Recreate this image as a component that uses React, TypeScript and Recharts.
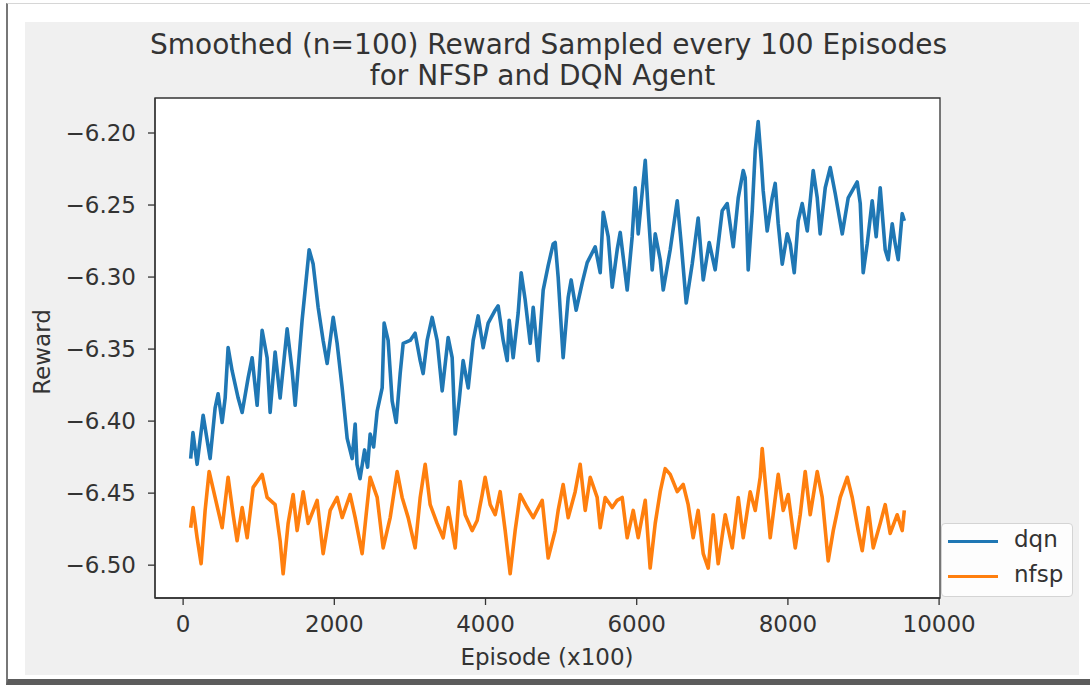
import { LineChart, Line, XAxis, YAxis, CartesianGrid, ReferenceArea } from "recharts";

// episode / smoothed reward pairs
const dqnEpisodes = [
  100, 130, 185, 265, 357, 423, 463, 516, 556, 595, 648, 728, 781, 860, 913, 979,
  1045, 1111, 1151, 1217, 1283, 1376, 1442, 1482, 1574, 1614, 1667, 1720, 1786, 1852,
  1905, 1985, 2037, 2104, 2170, 2236, 2276, 2300, 2340, 2400, 2440, 2474, 2520, 2567,
  2633, 2659, 2712, 2765, 2818, 2871, 2911, 3003, 3069, 3136, 3175, 3228, 3294, 3360,
  3427, 3506, 3559, 3599, 3651, 3704, 3771, 3837, 3903, 3969, 4035, 4128, 4167, 4234,
  4287, 4313, 4366, 4432, 4472, 4525, 4591, 4631, 4697, 4763, 4829, 4895, 4922, 4961,
  5027, 5094, 5133, 5199, 5279, 5345, 5451, 5517, 5557, 5623, 5676, 5742, 5782, 5874,
  5940, 5980, 6020, 6113, 6152, 6205, 6245, 6311, 6351, 6443, 6536, 6589, 6655, 6734,
  6813, 6880, 6959, 7038, 7131, 7197, 7277, 7343, 7409, 7435, 7475, 7528, 7568, 7607,
  7647, 7673, 7726, 7792, 7832, 7872, 7925, 7991, 8031, 8084, 8136, 8189, 8256, 8335,
  8388, 8427, 8494, 8560, 8626, 8719, 8798, 8917, 8957, 8996, 9049, 9115, 9168, 9221,
  9287, 9327, 9380, 9420, 9459, 9512, 9540,
];
const dqnReward = [
  -6.426, -6.408, -6.430, -6.396, -6.426, -6.391, -6.381, -6.401, -6.384, -6.349, -6.365, -6.384, -6.394, -6.370, -6.356, -6.389,
  -6.337, -6.356, -6.394, -6.352, -6.384, -6.336, -6.365, -6.389, -6.330, -6.309, -6.281, -6.291, -6.321, -6.344,
  -6.360, -6.328, -6.346, -6.377, -6.412, -6.426, -6.402, -6.430, -6.440, -6.420, -6.432, -6.409, -6.418, -6.393,
  -6.377, -6.332, -6.344, -6.386, -6.401, -6.367, -6.346, -6.344, -6.339, -6.358, -6.367, -6.344, -6.328, -6.344,
  -6.379, -6.342, -6.356, -6.409, -6.386, -6.358, -6.377, -6.344, -6.327, -6.349, -6.332, -6.323, -6.320, -6.344,
  -6.358, -6.330, -6.356, -6.325, -6.297, -6.316, -6.346, -6.321, -6.358, -6.309, -6.292, -6.277, -6.276, -6.300,
  -6.356, -6.314, -6.302, -6.323, -6.304, -6.290, -6.279, -6.297, -6.255, -6.272, -6.307, -6.281, -6.269, -6.309,
  -6.272, -6.238, -6.270, -6.219, -6.254, -6.295, -6.270, -6.288, -6.309, -6.281, -6.247, -6.277, -6.318, -6.291,
  -6.259, -6.302, -6.276, -6.295, -6.254, -6.249, -6.279, -6.245, -6.226, -6.231, -6.295, -6.254, -6.212, -6.192,
  -6.219, -6.240, -6.268, -6.245, -6.235, -6.263, -6.291, -6.270, -6.277, -6.297, -6.261, -6.249, -6.268, -6.226,
  -6.245, -6.270, -6.238, -6.224, -6.242, -6.270, -6.245, -6.234, -6.249, -6.297, -6.277, -6.247, -6.272, -6.238,
  -6.281, -6.288, -6.263, -6.277, -6.288, -6.256, -6.261,
];

const nfspEpisodes = [
  100, 132, 185, 238, 291, 344, 423, 516, 595, 662, 714, 781, 847, 926, 1045, 1111,
  1217, 1283, 1323, 1389, 1455, 1508, 1588, 1654, 1773, 1852, 1945, 2037, 2104, 2209,
  2276, 2368, 2421, 2474, 2567, 2646, 2739, 2831, 2897, 2977, 3069, 3136, 3202, 3268,
  3360, 3440, 3506, 3599, 3665, 3731, 3823, 3890, 3956, 3995, 4062, 4128, 4194, 4260,
  4326, 4392, 4459, 4551, 4631, 4750, 4829, 4922, 4961, 5027, 5094, 5186, 5252, 5319,
  5385, 5477, 5517, 5583, 5676, 5742, 5808, 5874, 5954, 6020, 6113, 6178, 6245, 6311,
  6377, 6443, 6536, 6615, 6681, 6747, 6813, 6880, 6946, 7012, 7078, 7171, 7264, 7343,
  7409, 7501, 7568, 7634, 7660, 7700, 7766, 7872, 7938, 8004, 8097, 8163, 8229, 8295,
  8388, 8454, 8533, 8600, 8692, 8785, 8851, 8930, 8983, 9062, 9129, 9221, 9287, 9353,
  9446, 9512, 9540,
];
const nfspReward = [
  -6.474, -6.460, -6.481, -6.499, -6.462, -6.435, -6.453, -6.474, -6.439, -6.465, -6.483, -6.460, -6.481, -6.446, -6.437, -6.453,
  -6.458, -6.483, -6.506, -6.471, -6.451, -6.476, -6.449, -6.471, -6.455, -6.492, -6.462, -6.453, -6.467, -6.451,
  -6.467, -6.492, -6.465, -6.439, -6.453, -6.488, -6.467, -6.435, -6.453, -6.467, -6.488, -6.453, -6.430, -6.458,
  -6.471, -6.481, -6.460, -6.488, -6.442, -6.465, -6.476, -6.469, -6.451, -6.439, -6.458, -6.465, -6.449, -6.476,
  -6.506, -6.476, -6.451, -6.460, -6.467, -6.455, -6.495, -6.476, -6.462, -6.444, -6.467, -6.449, -6.430, -6.462,
  -6.439, -6.453, -6.474, -6.453, -6.460, -6.455, -6.453, -6.481, -6.462, -6.481, -6.455, -6.502, -6.471, -6.449,
  -6.433, -6.437, -6.449, -6.444, -6.458, -6.481, -6.462, -6.492, -6.502, -6.465, -6.499, -6.465, -6.488, -6.453,
  -6.481, -6.449, -6.462, -6.439, -6.419, -6.442, -6.481, -6.437, -6.462, -6.451, -6.488, -6.465, -6.435, -6.465,
  -6.435, -6.453, -6.497, -6.476, -6.453, -6.439, -6.453, -6.476, -6.490, -6.460, -6.488, -6.471, -6.458, -6.478,
  -6.465, -6.476, -6.462,
];

const xTicks = [0, 2000, 4000, 6000, 8000, 10000];
const yTicks = [-6.5, -6.45, -6.4, -6.35, -6.3, -6.25, -6.2];

// matplotlib-style 5% padding around the data range
const xDomain: [number, number] = [-372, 10012];
const yDomain: [number, number] = [-6.5228, -6.1757];

const dqnData = dqnEpisodes.map((episode, i) => ({ episode, reward: dqnReward[i] }));
const nfspData = nfspEpisodes.map((episode, i) => ({ episode, reward: nfspReward[i] }));

const FONT = "DejaVu Sans, sans-serif";
const INK = "#333333";
const BLUE = "#1f77b4";
const ORANGE = "#ff7f0e";

const tickStyle = { fill: INK, fontSize: 23, fontFamily: FONT };

function formatReward(v: number): string {
  return v.toFixed(2).replace("-", "\u2212");
}

export default function App() {
  return (
    <div style={{ position: "absolute", left: 0, top: 0, width: 1090, height: 694, background: "#ffffff", fontFamily: FONT }}>
      {/* window frame */}
      <div
        style={{
          position: "absolute",
          left: 6,
          top: 3,
          width: 1084,
          height: 682,
          background: "#ffffff",
          borderLeft: "2px solid #777",
          borderTop: "1px solid #d6d6d6",
          borderBottom: "6px solid #5c5c5c",
          boxSizing: "border-box",
        }}
      />
      {/* figure face */}
      <div style={{ position: "absolute", left: 25, top: 22, width: 1054, height: 653, background: "#f0f0f0" }} />

      <div
        style={{
          position: "absolute",
          left: 150,
          width: 785,
          top: 29,
          textAlign: "center",
          fontSize: 28,
          lineHeight: "31px",
          color: INK,
          whiteSpace: "nowrap",
        }}
      >
        <div>Smoothed (n=100) Reward Sampled every 100 Episodes</div>
        <div>for NFSP and DQN Agent</div>
      </div>

      <div style={{ position: "absolute", left: 0, top: 0 }}>
        <LineChart width={1090} height={694} margin={{ top: 98, right: 150, bottom: 46, left: 75 }}>
          <CartesianGrid horizontal={false} vertical={false} fill="#ffffff" />
          <XAxis
            dataKey="episode"
            type="number"
            domain={xDomain}
            allowDataOverflow
            ticks={xTicks}
            height={50}
            tick={tickStyle}
            tickSize={7}
            tickMargin={11}
            tickLine={{ stroke: INK, strokeWidth: 1.3 }}
            axisLine={{ stroke: INK, strokeWidth: 1.3 }}
          />
          <YAxis
            type="number"
            domain={yDomain}
            allowDataOverflow
            ticks={yTicks}
            width={80}
            tick={tickStyle}
            tickFormatter={formatReward}
            tickSize={7}
            tickMargin={12}
            tickLine={{ stroke: INK, strokeWidth: 1.3 }}
            axisLine={{ stroke: INK, strokeWidth: 1.3 }}
          />
          <ReferenceArea
            x1={xDomain[0]}
            x2={xDomain[1]}
            y1={yDomain[0]}
            y2={yDomain[1]}
            fill="none"
            stroke={INK}
            strokeWidth={1.3}
          />
          <Line
            data={dqnData}
            dataKey="reward"
            name="dqn"
            type="linear"
            stroke={BLUE}
            strokeWidth={3.6}
            strokeLinejoin="round"
            dot={false}
            isAnimationActive={false}
          />
          <Line
            data={nfspData}
            dataKey="reward"
            name="nfsp"
            type="linear"
            stroke={ORANGE}
            strokeWidth={3.6}
            strokeLinejoin="round"
            dot={false}
            isAnimationActive={false}
          />
        </LineChart>
      </div>

      {/* axis labels */}
      <div
        style={{
          position: "absolute",
          left: 42,
          top: 352,
          transform: "translate(-50%, -50%) rotate(-90deg)",
          fontSize: 23,
          color: INK,
          whiteSpace: "nowrap",
        }}
      >
        Reward
      </div>
      <div
        style={{
          position: "absolute",
          left: 547,
          top: 657,
          transform: "translate(-50%, -50%)",
          fontSize: 23,
          color: INK,
          whiteSpace: "nowrap",
        }}
      >
        Episode (x100)
      </div>

      {/* legend, anchored just outside the lower right corner of the axes */}
      <div
        style={{
          position: "absolute",
          left: 941,
          top: 523,
          width: 132,
          height: 74,
          background: "rgba(255,255,255,0.85)",
          border: "1px solid #d4d4d4",
          borderRadius: 4,
          boxSizing: "border-box",
          fontSize: 23,
          color: INK,
        }}
      >
        {[
          { label: "dqn", color: BLUE, top: 17 },
          { label: "nfsp", color: ORANGE, top: 52 },
        ].map((item) => (
          <div key={item.label}>
            <div style={{ position: "absolute", left: 6, top: item.top - 1.5, width: 50, height: 3, background: item.color }} />
            <div style={{ position: "absolute", left: 72, top: item.top - 15, lineHeight: "26px" }}>{item.label}</div>
          </div>
        ))}
      </div>
    </div>
  );
}
